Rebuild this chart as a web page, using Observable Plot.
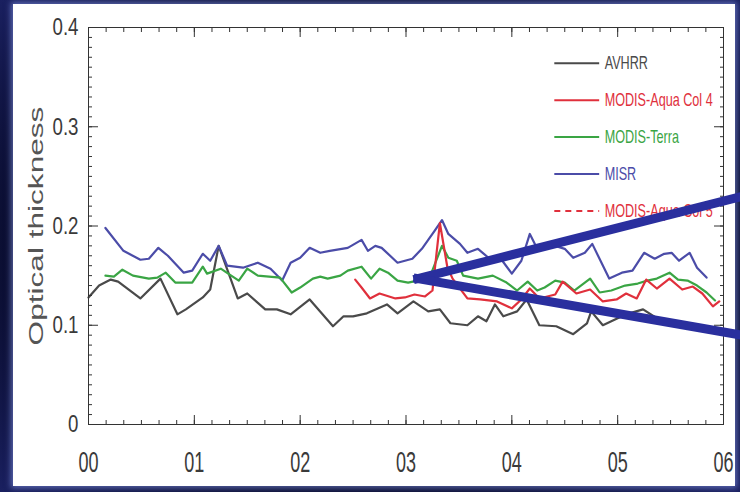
<!DOCTYPE html>
<html><head><meta charset="utf-8">
<script src="https://cdn.jsdelivr.net/npm/d3@7"></script>
<script src="https://cdn.jsdelivr.net/npm/@observablehq/plot@0.6"></script>
<style>
html,body{margin:0;padding:0;background:#0b0e33;}
#wrap{position:relative;width:740px;height:492px;overflow:hidden;
  background:radial-gradient(ellipse at 50% 50%, #04061c 55%, #1a2060 100%);}
#panel{position:absolute;left:13px;top:4px;width:722px;height:482px;background:#fff;
  box-shadow:0 0 6px 2px rgba(150,170,255,0.55);}
#chart{position:absolute;left:0;top:0;}
</style></head><body>
<div id="wrap"><div id="panel"></div><div id="chart"></div></div>
<script>
// ---- data (years since 2000, optical thickness) ----
const avhrrT = [0.00,0.10,0.21,0.28,0.49,0.68,0.84,0.92,1.08,1.15,1.23,1.41,1.50,1.67,1.78,1.91,2.09,2.31,2.41,2.50,2.63,2.82,2.92,3.07,3.21,3.32,3.42,3.58,3.68,3.76,3.84,3.92,4.05,4.14,4.26,4.42,4.58,4.71,4.75,4.86,5.00,5.11,5.24,5.40,5.58,5.77,5.92];
const avhrrV = [0.128,0.140,0.146,0.144,0.127,0.147,0.111,0.116,0.128,0.136,0.180,0.127,0.132,0.116,0.116,0.111,0.126,0.099,0.109,0.109,0.112,0.121,0.112,0.124,0.114,0.116,0.102,0.100,0.109,0.104,0.121,0.109,0.114,0.126,0.100,0.099,0.091,0.102,0.114,0.100,0.107,0.112,0.116,0.105,0.100,0.097,0.094];

const misrT = [0.16,0.33,0.49,0.57,0.66,0.75,0.90,0.98,1.08,1.15,1.23,1.31,1.46,1.60,1.72,1.83,1.91,2.00,2.09,2.19,2.28,2.45,2.58,2.64,2.71,2.77,2.92,3.06,3.15,3.27,3.34,3.40,3.51,3.58,3.68,3.79,3.91,4.00,4.09,4.17,4.24,4.33,4.41,4.50,4.58,4.69,4.76,4.92,5.04,5.14,5.25,5.35,5.44,5.51,5.58,5.68,5.75,5.84];
const misrV = [0.198,0.175,0.166,0.167,0.178,0.170,0.153,0.155,0.172,0.165,0.180,0.160,0.158,0.163,0.157,0.145,0.163,0.168,0.178,0.173,0.175,0.178,0.186,0.175,0.180,0.178,0.163,0.167,0.177,0.195,0.206,0.192,0.182,0.173,0.177,0.167,0.165,0.152,0.165,0.192,0.177,0.178,0.180,0.177,0.168,0.173,0.182,0.147,0.153,0.155,0.173,0.167,0.172,0.173,0.165,0.173,0.158,0.148];

const terraT = [0.16,0.24,0.32,0.42,0.57,0.65,0.73,0.82,0.98,1.08,1.12,1.25,1.32,1.42,1.50,1.60,1.81,1.92,2.00,2.12,2.19,2.26,2.38,2.45,2.58,2.67,2.75,2.83,2.92,3.02,3.11,3.23,3.34,3.40,3.48,3.54,3.68,3.82,3.95,4.05,4.15,4.24,4.31,4.41,4.50,4.59,4.74,4.83,4.94,5.07,5.19,5.28,5.37,5.49,5.57,5.66,5.75,5.84,5.92];
const terraV = [0.150,0.149,0.156,0.150,0.147,0.148,0.153,0.143,0.143,0.159,0.152,0.157,0.152,0.145,0.157,0.150,0.148,0.133,0.138,0.147,0.149,0.147,0.150,0.155,0.159,0.147,0.157,0.153,0.145,0.143,0.145,0.150,0.180,0.168,0.165,0.150,0.147,0.150,0.143,0.135,0.144,0.135,0.138,0.145,0.143,0.135,0.147,0.133,0.135,0.140,0.142,0.145,0.147,0.153,0.146,0.145,0.140,0.133,0.125];

const aquaT = [2.52,2.58,2.66,2.75,2.90,2.99,3.08,3.18,3.25,3.32,3.39,3.44,3.58,3.70,3.86,4.00,4.09,4.17,4.26,4.41,4.48,4.61,4.74,4.86,4.99,5.08,5.18,5.27,5.37,5.49,5.61,5.71,5.80,5.90,5.96];
const aquaV = [0.146,0.138,0.127,0.132,0.127,0.128,0.131,0.129,0.135,0.203,0.159,0.147,0.127,0.126,0.124,0.117,0.126,0.137,0.127,0.131,0.144,0.132,0.136,0.124,0.126,0.132,0.127,0.146,0.137,0.147,0.136,0.139,0.132,0.119,0.124];

const seriesNames = ["AVHRR","MODIS-Aqua Col 4","MODIS-Terra","MISR","MODIS-Aqua Col 5"];
const seriesColors = ["#4a4a4a","#e0303c","#3aa544","#4b4ca8","#e0303c"];

const xTicks = [0,1,2,3,4,5,6];
const xTickLabels = ["00","01","02","03","04","05","06"];
const yTicks = [0,0.1,0.2,0.3,0.4];
const yTickLabels = ["0","0.1","0.2","0.3","0.4"];
const yTitle = "Optical thickness";

// annotation wedge (two arms from a common apex)
const wedgeT = [3.113, 6.17, 3.113, 6.17];
const wedgeV = [0.147, 0.2297, 0.147, 0.0900];
const wedgeArm = ["upper","upper","lower","lower"];

// ---- build tables ----
const toRows = (name, T, V) => T.map((t, i) => ({series: name, t, v: V[i]}));
const lineRows = [
  ...toRows("AVHRR", avhrrT, avhrrV),
  ...toRows("MISR", misrT, misrV),
  ...toRows("MODIS-Terra", terraT, terraV),
  ...toRows("MODIS-Aqua Col 4", aquaT, aquaV)
];
const wedgeRows = wedgeT.map((t, i) => ({t, v: wedgeV[i], arm: wedgeArm[i]}));

const LEG_X0 = 4.406, LEG_X1 = 4.83, LEG_TX = 4.877, LEG_Y0 = 0.364, LEG_DY = 0.0372;
const legendRows = seriesNames.map((name, i) => ({name, y: LEG_Y0 - i * LEG_DY}));

const SANS = "'Liberation Sans',Arial,Helvetica,sans-serif";
const AX = "#333";

const minorY = d3.range(0, 41).map(k => k / 100);
const minorX = d3.range(0, 37).map(k => k / 6);

const chart = Plot.plot({
  width: 740, height: 492,
  marginLeft: 88, marginRight: 17, marginTop: 27, marginBottom: 68,
  style: {background: "transparent", overflow: "visible"},
  x: {domain: [0, 6]},
  y: {domain: [0, 0.4]},
  color: {domain: seriesNames, range: seriesColors},
  marks: [
    Plot.line(lineRows, {x: "t", y: "v", z: "series", stroke: "series", strokeWidth: 2.2, strokeLinejoin: "round"}),
    Plot.frame({stroke: AX, strokeWidth: 1}),
    // inward ticks
    Plot.axisY({anchor: "left", ticks: minorY, tickSize: -4, fill: "none", stroke: AX, label: null}),
    Plot.axisY({anchor: "right", ticks: minorY, tickSize: -4, fill: "none", stroke: AX, label: null}),
    Plot.axisY({anchor: "left", ticks: yTicks, tickSize: -10, fill: "none", stroke: AX, label: null}),
    Plot.axisY({anchor: "right", ticks: yTicks, tickSize: -10, fill: "none", stroke: AX, label: null}),
    Plot.axisX({anchor: "bottom", ticks: minorX, tickSize: -4, fill: "none", stroke: AX, label: null}),
    Plot.axisX({anchor: "top", ticks: minorX, tickSize: -4, fill: "none", stroke: AX, label: null}),
    Plot.axisX({anchor: "bottom", ticks: xTicks, tickSize: -9, fill: "none", stroke: AX, label: null}),
    Plot.axisX({anchor: "top", ticks: xTicks, tickSize: -9, fill: "none", stroke: AX, label: null}),
    // labels
    Plot.axisY({anchor: "left", ticks: yTicks, tickSize: 0, tickPadding: 10,
      tickFormat: d => yTickLabels[yTicks.indexOf(d)], fontSize: 22, fontFamily: SANS, fill: "#3a3a3a", label: null}),
    Plot.axisX({anchor: "bottom", ticks: xTicks, tickSize: 0, tickPadding: 27,
      tickFormat: d => xTickLabels[xTicks.indexOf(d)], fontSize: 22, fontFamily: SANS, fill: "#3a3a3a", label: null}),
    Plot.text([yTitle], {text: d => d, frameAnchor: "left", dx: -52, rotate: -90, textAnchor: "middle",
      fontSize: 20, fontFamily: SANS, fill: "#555", lineAnchor: "middle"}),
    // legend
    Plot.ruleY(legendRows.filter(d => d.name !== "MODIS-Aqua Col 5"), {y: "y", x1: LEG_X0, x2: LEG_X1, stroke: "name", strokeWidth: 2}),
    Plot.ruleY(legendRows.filter(d => d.name === "MODIS-Aqua Col 5"), {y: "y", x1: LEG_X0, x2: LEG_X1, stroke: "name", strokeWidth: 2, strokeDasharray: "6,5"}),
    Plot.text(legendRows, {x: LEG_TX, y: "y", text: "name", fill: "name", textAnchor: "start", fontSize: 16, fontFamily: SANS}),
    // annotation wedge
    Plot.line(wedgeRows, {x: "t", y: "v", z: "arm", stroke: "#2a2f9e", strokeWidth: 9, strokeLinecap: "square"})
  ]
});

// condensed, vertically stretched typography of the original
chart.querySelectorAll("text").forEach(t => {
  const tr = t.getAttribute("transform") || "";
  const s = t.textContent;
  let sc = "scale(0.82,1.2)";
  if (s === yTitle) sc = "scale(1.58,1)";
  else if (xTickLabels.includes(s)) sc = "scale(0.82,1.3)";
  else if (yTickLabels.includes(s)) sc = "scale(0.85,1.12)";
  else if (seriesNames.includes(s)) sc = "scale(0.79,1.15)";
  t.setAttribute("transform", tr + " " + sc);
});
document.getElementById("chart").appendChild(chart);
</script>
</body></html>
